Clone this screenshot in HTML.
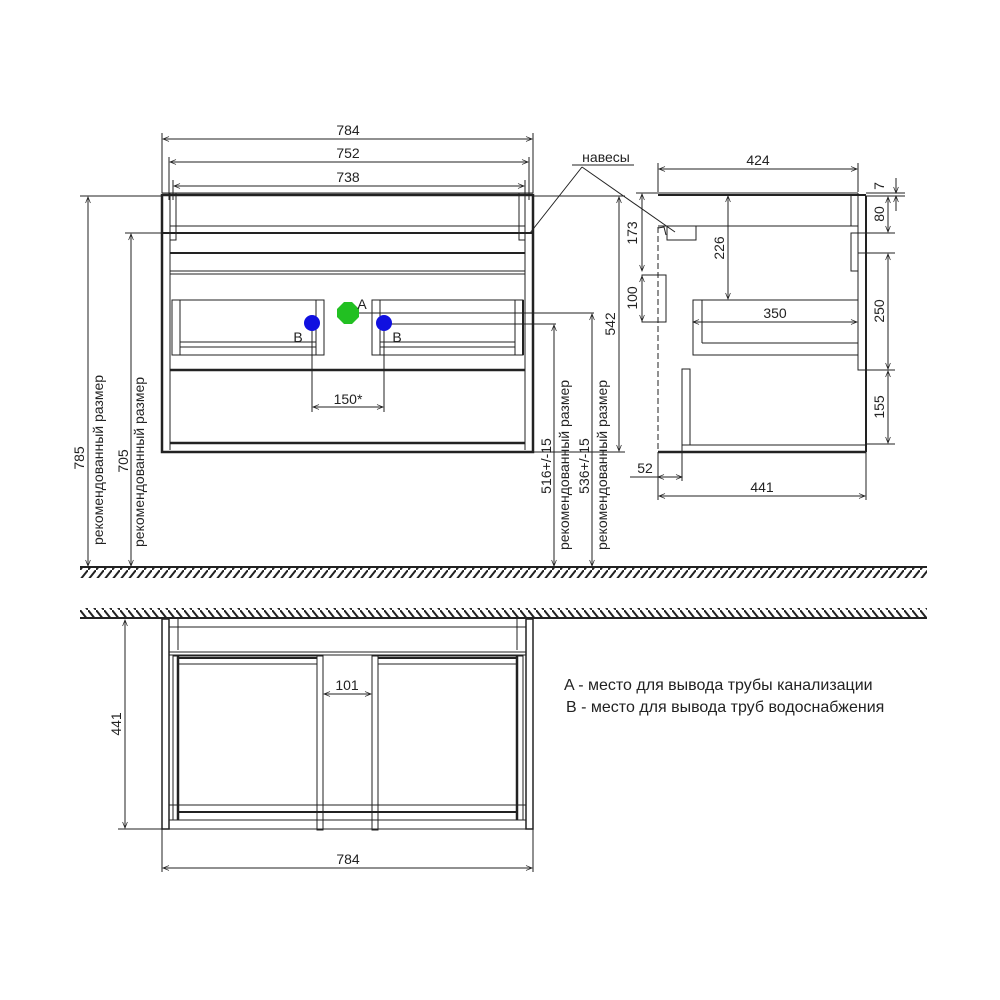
<!DOCTYPE html>
<html><head><meta charset="utf-8"><style>
html,body{margin:0;padding:0;background:#fff}
svg{display:block}
text{font-family:"Liberation Sans",sans-serif;fill:#222}
</style></head><body>
<svg width="1000" height="1000" viewBox="0 0 1000 1000" xmlns="http://www.w3.org/2000/svg">
<defs>
<marker id="a" viewBox="0 0 10 10" refX="10" refY="5" markerWidth="8" markerHeight="6" orient="auto-start-reverse" markerUnits="userSpaceOnUse"><path d="M0,1 L10,5 L0,9" fill="none" stroke="#222" stroke-width="1.2"/></marker>
<pattern id="hf" width="8" height="10" patternUnits="userSpaceOnUse"><line x1="0" y1="10" x2="8" y2="0" stroke="#222" stroke-width="2"/></pattern>
<pattern id="hc" width="8" height="10" patternUnits="userSpaceOnUse"><line x1="0" y1="0" x2="8" y2="10" stroke="#222" stroke-width="2"/></pattern>
</defs>
<g stroke="#222" fill="none" stroke-width="1">
<rect x="80" y="568" width="847" height="10" fill="url(#hf)" stroke="none"/>
<line x1="80" y1="567" x2="927" y2="567" stroke-width="2"/>
<rect x="80" y="608" width="847" height="10" fill="url(#hc)" stroke="none"/>
<line x1="80" y1="618" x2="927" y2="618" stroke-width="2"/>

<rect x="162" y="195" width="371" height="257" stroke-width="2.5"/>
<line x1="170" y1="197" x2="170" y2="450"/>
<line x1="525" y1="197" x2="525" y2="450"/>
<line x1="162" y1="193" x2="533" y2="193"/>
<line x1="170" y1="226" x2="525" y2="226"/>
<line x1="162" y1="233" x2="533" y2="233" stroke-width="2"/>
<rect x="170" y="193" width="6" height="47"/>
<rect x="519" y="193" width="6" height="47"/>
<line x1="170" y1="253" x2="525" y2="253" stroke-width="2"/>
<line x1="170" y1="271" x2="525" y2="271"/>
<line x1="170" y1="274" x2="525" y2="274"/>
<line x1="170" y1="370" x2="525" y2="370" stroke-width="2.5"/>
<line x1="170" y1="443" x2="525" y2="443" stroke-width="2.5"/>
<rect x="172" y="300" width="152" height="55"/>
<rect x="172" y="300" width="8" height="55"/>
<rect x="316" y="300" width="8" height="55"/>
<line x1="180" y1="342" x2="316" y2="342"/><line x1="180" y1="347" x2="316" y2="347"/>
<rect x="372" y="300" width="151" height="55"/>
<rect x="372" y="300" width="8" height="55"/>
<rect x="515" y="300" width="8" height="55"/>
<line x1="380" y1="342" x2="515" y2="342"/><line x1="380" y1="347" x2="515" y2="347"/>
<line x1="523" y1="300" x2="523" y2="355" stroke-width="2"/>

<line x1="162" y1="133" x2="162" y2="193"/><line x1="533" y1="133" x2="533" y2="193"/>
<line x1="163" y1="139" x2="532" y2="139" marker-start="url(#a)" marker-end="url(#a)"/>
<line x1="169" y1="157" x2="169" y2="200"/><line x1="529" y1="157" x2="529" y2="200"/>
<line x1="170" y1="162" x2="528" y2="162" marker-start="url(#a)" marker-end="url(#a)"/>
<line x1="173" y1="180" x2="173" y2="200"/><line x1="525" y1="180" x2="525" y2="200"/>
<line x1="174" y1="186" x2="524" y2="186" marker-start="url(#a)" marker-end="url(#a)"/>

<line x1="80" y1="196" x2="162" y2="196"/>
<line x1="88" y1="197" x2="88" y2="566" marker-start="url(#a)" marker-end="url(#a)"/>
<line x1="125" y1="233" x2="170" y2="233"/>
<line x1="131" y1="234" x2="131" y2="566" marker-start="url(#a)" marker-end="url(#a)"/>

<line x1="348" y1="313" x2="594" y2="313"/>
<line x1="384" y1="324" x2="556" y2="324"/>
<line x1="312" y1="323" x2="312" y2="412"/>
<line x1="384" y1="323" x2="384" y2="412"/>
<line x1="313" y1="407" x2="383" y2="407" marker-start="url(#a)" marker-end="url(#a)"/>
<line x1="554" y1="325" x2="554" y2="566" marker-start="url(#a)" marker-end="url(#a)"/>
<line x1="592" y1="314" x2="592" y2="566" marker-start="url(#a)" marker-end="url(#a)"/>
<line x1="533" y1="196" x2="625" y2="196"/>
<line x1="533" y1="452" x2="625" y2="452"/>
<line x1="619" y1="197" x2="619" y2="451" marker-start="url(#a)" marker-end="url(#a)"/>

<line x1="572" y1="165" x2="634" y2="165"/>
<line x1="582" y1="167" x2="530" y2="233"/>
<line x1="582" y1="167" x2="675" y2="232"/>

<line x1="658" y1="163" x2="658" y2="192"/><line x1="858" y1="163" x2="858" y2="192"/>
<line x1="659" y1="169" x2="857" y2="169" marker-start="url(#a)" marker-end="url(#a)"/>
<line x1="658" y1="193" x2="858" y2="193"/>
<line x1="658" y1="195" x2="866" y2="195" stroke-width="2"/>
<line x1="866" y1="196" x2="866" y2="452" stroke-width="2"/>
<line x1="858" y1="193" x2="858" y2="233"/>
<line x1="858" y1="233" x2="866" y2="233"/>
<line x1="851" y1="195" x2="851" y2="226"/>
<line x1="658" y1="226" x2="858" y2="226"/>
<rect x="851" y="233" width="7" height="38"/>
<rect x="858" y="253" width="8" height="117"/>
<line x1="658" y1="227" x2="658" y2="452" stroke-dasharray="6,3"/>
<rect x="667" y="226" width="29" height="14"/>
<path d="M658,228 L664,227 L666,235"/>
<rect x="642" y="275" width="24" height="47"/>
<line x1="636" y1="193" x2="658" y2="193"/>
<line x1="642" y1="194" x2="642" y2="271" marker-start="url(#a)" marker-end="url(#a)"/>
<line x1="642" y1="276" x2="642" y2="321" marker-start="url(#a)" marker-end="url(#a)"/>
<line x1="728" y1="196" x2="728" y2="299" marker-start="url(#a)" marker-end="url(#a)"/>
<rect x="693" y="300" width="165" height="55"/>
<line x1="702" y1="300" x2="702" y2="343"/>
<line x1="702" y1="343" x2="858" y2="343"/>
<line x1="693" y1="322" x2="857" y2="322" marker-start="url(#a)" marker-end="url(#a)"/>
<rect x="682" y="369" width="8" height="76"/>
<line x1="682" y1="445" x2="866" y2="445"/>
<line x1="658" y1="452" x2="866" y2="452" stroke-width="2.5"/>
<line x1="658" y1="452" x2="658" y2="500"/><line x1="866" y1="452" x2="866" y2="500"/>
<line x1="659" y1="496" x2="865" y2="496" marker-start="url(#a)" marker-end="url(#a)"/>
<line x1="682" y1="445" x2="682" y2="481"/>
<line x1="630" y1="477" x2="658" y2="477"/>
<line x1="658" y1="477" x2="682" y2="477" marker-start="url(#a)" marker-end="url(#a)"/>
<line x1="866" y1="193" x2="905" y2="193"/>
<line x1="866" y1="196" x2="905" y2="196"/>
<line x1="866" y1="233" x2="895" y2="233"/>
<line x1="866" y1="253" x2="895" y2="253"/>
<line x1="866" y1="370" x2="895" y2="370"/>
<line x1="866" y1="444" x2="895" y2="444"/>
<line x1="896" y1="178" x2="896" y2="193" marker-end="url(#a)"/>
<line x1="896" y1="211" x2="896" y2="196" marker-end="url(#a)"/>
<line x1="888" y1="197" x2="888" y2="232" marker-start="url(#a)" marker-end="url(#a)"/>
<line x1="888" y1="254" x2="888" y2="369" marker-start="url(#a)" marker-end="url(#a)"/>
<line x1="888" y1="371" x2="888" y2="443" marker-start="url(#a)" marker-end="url(#a)"/>

<rect x="162" y="619" width="7" height="210" stroke-width="1.5"/>
<rect x="526" y="619" width="7" height="210" stroke-width="1.5"/>
<line x1="178" y1="619" x2="178" y2="650"/><line x1="517" y1="619" x2="517" y2="650"/>
<line x1="169" y1="627" x2="526" y2="627"/>
<line x1="169" y1="652" x2="526" y2="652"/>
<line x1="169" y1="655" x2="526" y2="655"/>
<rect x="173" y="656" width="150" height="164"/>
<line x1="178" y1="656" x2="178" y2="820" stroke-width="2.5"/>
<line x1="178" y1="658" x2="317" y2="658" stroke-width="2"/>
<line x1="178" y1="664" x2="317" y2="664"/>
<rect x="317" y="656" width="6" height="174"/>
<rect x="372" y="656" width="6" height="174"/>
<rect x="372" y="656" width="151" height="164"/>
<line x1="517" y1="656" x2="517" y2="820" stroke-width="2.5"/>
<line x1="378" y1="658" x2="517" y2="658" stroke-width="2"/>
<line x1="378" y1="664" x2="517" y2="664"/>
<line x1="169" y1="805" x2="526" y2="805"/>
<line x1="178" y1="812" x2="517" y2="812" stroke-width="2"/>
<line x1="169" y1="820" x2="526" y2="820"/>
<line x1="169" y1="829" x2="526" y2="829"/>
<line x1="324" y1="694" x2="371" y2="694" marker-start="url(#a)" marker-end="url(#a)"/>
<line x1="118" y1="829" x2="162" y2="829"/>
<line x1="125" y1="620" x2="125" y2="828" marker-start="url(#a)" marker-end="url(#a)"/>
<line x1="162" y1="829" x2="162" y2="872"/><line x1="533" y1="829" x2="533" y2="872"/>
<line x1="163" y1="868" x2="532" y2="868" marker-start="url(#a)" marker-end="url(#a)"/>
</g>
<polygon points="344,302 352,302 359,309 359,317 352,324 344,324 337,317 337,309" fill="#22c022"/>
<circle cx="312" cy="323" r="8" fill="#1010e0"/>
<circle cx="384" cy="323" r="8" fill="#1010e0"/>

<g font-size="14" text-anchor="middle">
<text x="348" y="135">784</text>
<text x="348" y="158">752</text>
<text x="348" y="182">738</text>
<text x="348" y="404">150*</text>
<text x="362" y="309">A</text>
<text x="298" y="342">B</text>
<text x="397" y="342">B</text>
<text x="606" y="162">навесы</text>
<text x="758" y="165">424</text>
<text x="775" y="318">350</text>
<text x="762" y="492">441</text>
<text x="645" y="473">52</text>
<text x="347" y="690">101</text>
<text x="348" y="864">784</text>
<text transform="translate(103,460) rotate(-90)">рекомендованный размер</text>
<text transform="translate(144,462) rotate(-90)">рекомендованный размер</text>
<text transform="translate(84,458) rotate(-90)">785</text>
<text transform="translate(128,461) rotate(-90)">705</text>
<text transform="translate(569,465) rotate(-90)">рекомендованный размер</text>
<text transform="translate(607,465) rotate(-90)">рекомендованный размер</text>
<text transform="translate(551,466) rotate(-90)">516+/-15</text>
<text transform="translate(589,466) rotate(-90)">536+/-15</text>
<text transform="translate(615,324) rotate(-90)">542</text>
<text transform="translate(637,233) rotate(-90)">173</text>
<text transform="translate(637,298) rotate(-90)">100</text>
<text transform="translate(724,248) rotate(-90)">226</text>
<text transform="translate(884,186) rotate(-90)">7</text>
<text transform="translate(884,214) rotate(-90)">80</text>
<text transform="translate(884,311) rotate(-90)">250</text>
<text transform="translate(884,407) rotate(-90)">155</text>
<text transform="translate(121,724) rotate(-90)">441</text>
</g>
<g font-size="16">
<text x="564" y="690">A - место для вывода трубы канализации</text>
<text x="566" y="712">B - место для вывода труб водоснабжения</text>
</g>
</svg>
</body></html>
